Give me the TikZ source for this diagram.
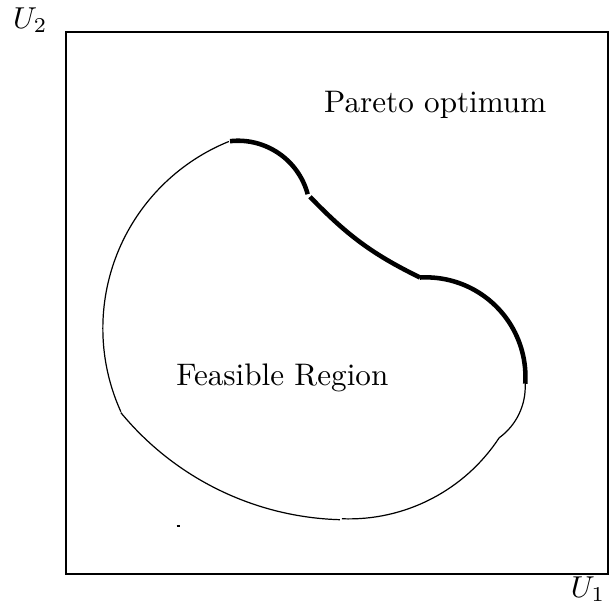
\documentclass[tikz,border=0pt]{standalone}
\usepackage{tikz}
\usetikzlibrary{calc}

\begin{document}
\begin{tikzpicture}[x=0.63cm, y=0.63cm, frontier/.style={line width=1.5pt},
    every node/.style={font=\fontsize{10.3}{12}\selectfont}]
  \useasboundingbox (-1.218,-0.59) rectangle (10.09,10.59);
  \draw[semithick] (0,0) rectangle (10,10);
  \node (u2) at (-0.66,10.22) {$U_2$};
  \node (u1) at (9.63,-0.28) {$U_1$};
  % centres of the arcs
  \coordinate (cl) at (4.398,4.532);
  \coordinate (ct) at (3.173,6.664);
  \coordinate (cr) at (6.637,3.636);
  \coordinate (ce) at (7.304,3.458);
  \coordinate (cb) at (5.205,6.438);
  \draw ($(cl)+(204.4:3.719)$) arc[start angle=204.4, end angle=112, radius=3.719];
  \draw[frontier] ($(ct)+(96.4:1.33)$) arc[start angle=96.4, end angle=15, radius=1.33];
  \coordinate (c2) at (4.5,6.96);
  \coordinate (d) at ($(cr)+(93.3:1.838)$);
  \draw[frontier] (c2) to[out=-46, in=154] (d);
  \draw[frontier] (d) arc[start angle=93.3, end angle=-3.9, radius=1.838];
  \draw ($(ce)+(2.6:1.167)$) arc[start angle=2.6, end angle=-54, radius=1.167] coordinate (f);
  \draw (f) arc[start angle=-33.3, end angle=-92.2, radius=3.317];
  \draw ($(cb)+(268.4:5.437)$) arc[start angle=268.4, end angle=219.5, radius=5.437];
  \draw[line width=0.6pt] (2.04,0.89) -- (2.1,0.89);
  \node (pareto) at (6.81,8.65) {Pareto optimum};
  \node (feasible) at (3.99,3.62) {Feasible Region};
\end{tikzpicture}
\end{document}
